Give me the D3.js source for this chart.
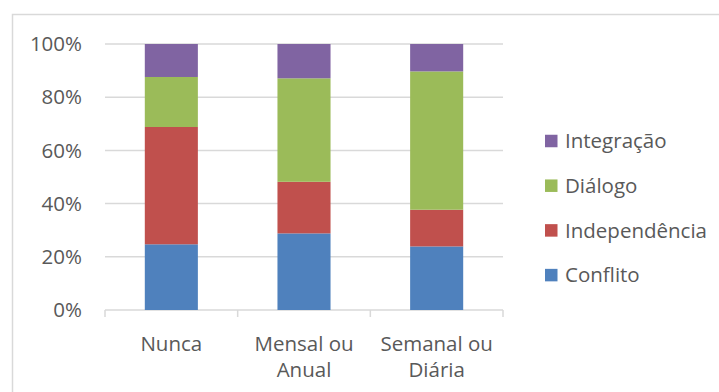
<!DOCTYPE html>
<html>
<head>
<meta charset="utf-8">
<script src="https://cdn.jsdelivr.net/npm/d3@7"></script>
<style>
    body { margin: 0; background: #fff; }
    svg text { font-family: "Open Sans", sans-serif; fill: #595959; }
</style>
</head>
<body>
<div id="chart"></div>
<script>
const categories = [["Nunca"], ["Mensal ou", "Anual"], ["Semanal ou", "Diária"]];
const categoryKeys = ["Nunca", "Mensal ou Anual", "Semanal ou Diária"];

const seriesNames = ["Conflito", "Independência", "Diálogo", "Integração"];
const conflito = [24.7, 28.8, 23.9];
const independencia = [44.1, 19.4, 13.8];
const dialogo = [18.8, 38.9, 52.0];
const integracao = [12.4, 12.9, 10.3];

const yTicks = [0, 0.2, 0.4, 0.6, 0.8, 1];

const colors = ["#4F81BD", "#C0504D", "#9BBB59", "#8064A2"];

const svgWidth = 719;
const svgHeight = 392;
const fontSize = "20.5px";

const svg = d3.select("#chart")
    .append("svg")
    .attr("width", svgWidth)
    .attr("height", svgHeight);

// chart frame (runs off right/bottom edge like the source)
svg.append("rect")
    .attr("x", 12.5)
    .attr("y", 14.5)
    .attr("width", 720)
    .attr("height", 400)
    .attr("fill", "none")
    .attr("stroke", "#d9d9d9")
    .attr("stroke-width", 1.5);

// build rows for the stack
const rows = categoryKeys.map((c, i) => {
    const total = conflito[i] + independencia[i] + dialogo[i] + integracao[i];
    return {
        cat: c,
        "Conflito": conflito[i] / total,
        "Independência": independencia[i] / total,
        "Diálogo": dialogo[i] / total,
        "Integração": integracao[i] / total
    };
});

const stacked = d3.stack().keys(seriesNames)(rows);

const xScale = d3.scaleBand()
    .domain(categoryKeys)
    .range([105, 503])
    .paddingInner(0.6)
    .paddingOuter(0.3);

const yScale = d3.scaleLinear()
    .domain([0, 1])
    .range([310, 44]);

// gridlines
svg.append("g")
    .selectAll("line")
    .data(yTicks)
    .enter()
    .append("line")
    .attr("x1", 105)
    .attr("x2", 503)
    .attr("y1", d => yScale(d))
    .attr("y2", d => yScale(d))
    .attr("stroke", "#d9d9d9")
    .attr("stroke-width", 1.5);

// y labels
svg.append("g")
    .selectAll("text")
    .data(yTicks)
    .enter()
    .append("text")
    .attr("x", 82)
    .attr("y", d => yScale(d))
    .attr("dy", "0.35em")
    .attr("text-anchor", "end")
    .attr("font-size", fontSize)
    .text(d => d3.format(".0%")(d));

// bars
svg.append("g")
    .selectAll("g")
    .data(stacked)
    .enter()
    .append("g")
    .attr("fill", (d, i) => colors[i])
    .selectAll("rect")
    .data(d => d)
    .enter()
    .append("rect")
    .attr("x", d => xScale(d.data.cat))
    .attr("y", d => yScale(d[1]))
    .attr("width", xScale.bandwidth())
    .attr("height", d => yScale(d[0]) - yScale(d[1]));

// category axis ticks
const step = xScale.step();
const tickXs = [0, 1, 2, 3].map(i => 105 + i * step);
svg.append("g")
    .selectAll("line")
    .data(tickXs)
    .enter()
    .append("line")
    .attr("x1", d => d)
    .attr("x2", d => d)
    .attr("y1", 310)
    .attr("y2", 317)
    .attr("stroke", "#d9d9d9")
    .attr("stroke-width", 1.5);

// category labels
const catLabels = svg.append("g")
    .selectAll("text")
    .data(categories)
    .enter()
    .append("text")
    .attr("text-anchor", "middle")
    .attr("font-size", fontSize);

catLabels.each(function (lines, i) {
    const cx = xScale(categoryKeys[i]) + xScale.bandwidth() / 2;
    lines.forEach((line, j) => {
        d3.select(this)
            .append("tspan")
            .attr("x", cx)
            .attr("y", 350.5 + j * 26.7)
            .text(line);
    });
});

// legend, top entry is the last series
const legendOrder = seriesNames.slice().reverse();
const legend = svg.append("g")
    .selectAll("g")
    .data(legendOrder)
    .enter()
    .append("g")
    .attr("transform", (d, i) => `translate(545, ${141 + i * 44.7})`);

legend.append("rect")
    .attr("x", 0)
    .attr("y", -6.25)
    .attr("width", 12.5)
    .attr("height", 12.5)
    .attr("fill", d => colors[seriesNames.indexOf(d)]);

legend.append("text")
    .attr("x", 20)
    .attr("y", 0)
    .attr("dy", "0.35em")
    .attr("font-size", fontSize)
    .text(d => d);
</script>
</body>
</html>
